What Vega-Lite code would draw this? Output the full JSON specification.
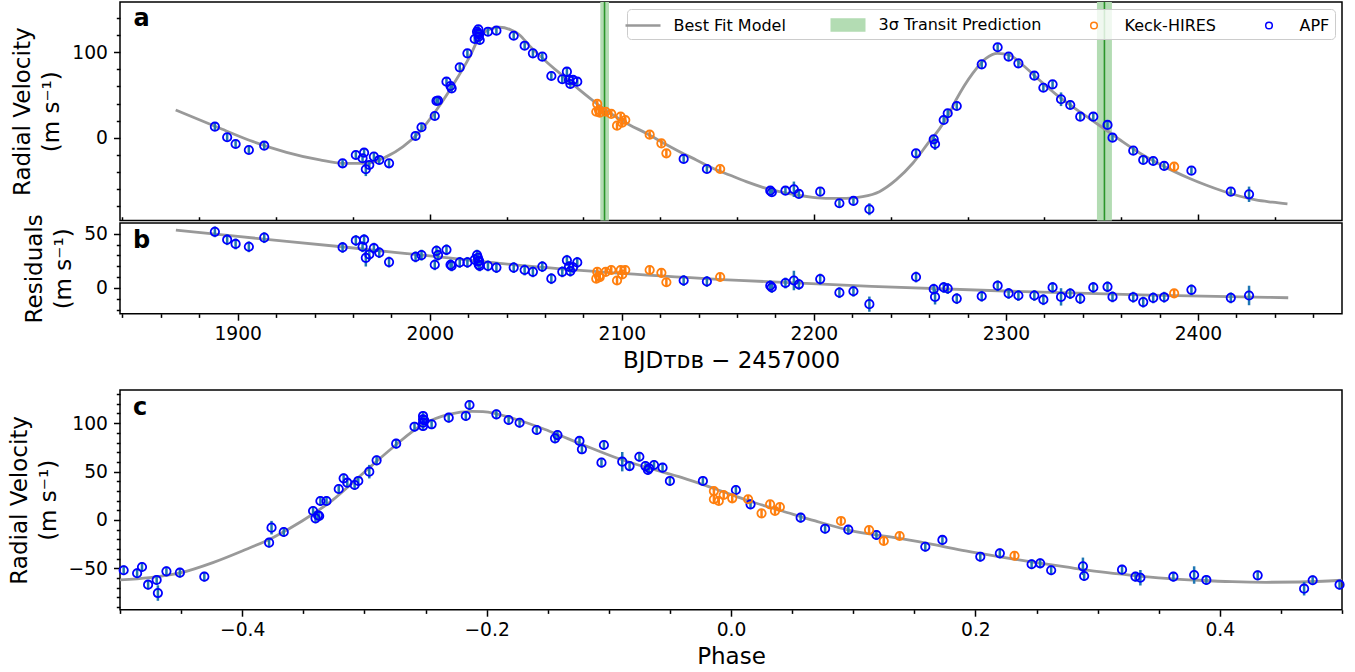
{
  "$schema": "https://vega.github.io/schema/vega-lite/v6.json",
  "background": "white",
  "padding": {"left": 7, "top": 0, "right": 5, "bottom": 0},
  "spacing": -10.5,
  "datasets": {
    "bands": [
      {"t0": 2088.8, "t1": 2093.3, "tc": 2091.0},
      {"t0": 2347.4, "t1": 2355.2, "tc": 2351.3}
    ],
    "model_a": [
      {"t": 1867.7, "rv": 32.4}, {"t": 1890.7, "rv": 11.0}, {"t": 1908.1, "rv": -4.7}, {"t": 1925.4, "rv": -17.1},
      {"t": 1942.8, "rv": -26.1}, {"t": 1954.6, "rv": -30.0}, {"t": 1967.1, "rv": -30.0}, {"t": 1977.5, "rv": -22.2},
      {"t": 1986.1, "rv": -10.5}, {"t": 1994.8, "rv": 7.0}, {"t": 2003.5, "rv": 32.4}, {"t": 2012.1, "rv": 61.7},
      {"t": 2020.8, "rv": 94.9}, {"t": 2026.0, "rv": 118.3}, {"t": 2031.2, "rv": 126.9}, {"t": 2036.4, "rv": 129.3},
      {"t": 2041.6, "rv": 126.9}, {"t": 2046.8, "rv": 120.3}, {"t": 2052.0, "rv": 107.5}, {"t": 2060.7, "rv": 89.0},
      {"t": 2069.4, "rv": 72.2}, {"t": 2078.0, "rv": 55.9}, {"t": 2086.7, "rv": 40.3}, {"t": 2095.4, "rv": 26.6},
      {"t": 2104.1, "rv": 14.9}, {"t": 2112.7, "rv": 5.2}, {"t": 2121.4, "rv": -5.9}, {"t": 2130.1, "rv": -16.4},
      {"t": 2138.8, "rv": -26.1}, {"t": 2147.4, "rv": -35.8}, {"t": 2156.1, "rv": -43.7}, {"t": 2164.8, "rv": -51.5},
      {"t": 2173.4, "rv": -58.1}, {"t": 2182.1, "rv": -63.2}, {"t": 2190.8, "rv": -67.1}, {"t": 2199.4, "rv": -69.8},
      {"t": 2208.1, "rv": -71.0}, {"t": 2216.8, "rv": -71.0}, {"t": 2225.4, "rv": -69.1}, {"t": 2234.1, "rv": -63.2},
      {"t": 2242.8, "rv": -49.5}, {"t": 2251.5, "rv": -30.0}, {"t": 2260.1, "rv": -4.7}, {"t": 2265.3, "rv": 10.0},
      {"t": 2270.5, "rv": 28.6}, {"t": 2274.0, "rv": 44.1}, {"t": 2282.7, "rv": 75.4}, {"t": 2289.6, "rv": 93.0},
      {"t": 2295.7, "rv": 98.8}, {"t": 2301.8, "rv": 96.8}, {"t": 2308.7, "rv": 85.1}, {"t": 2317.4, "rv": 67.6},
      {"t": 2326.1, "rv": 50.8}, {"t": 2334.7, "rv": 36.3}, {"t": 2343.4, "rv": 22.7}, {"t": 2352.1, "rv": 9.0},
      {"t": 2360.7, "rv": -4.7}, {"t": 2369.4, "rv": -17.6}, {"t": 2378.1, "rv": -28.8}, {"t": 2386.7, "rv": -38.6},
      {"t": 2395.4, "rv": -47.5}, {"t": 2404.1, "rv": -55.4}, {"t": 2412.8, "rv": -62.4}, {"t": 2421.4, "rv": -68.3},
      {"t": 2430.1, "rv": -72.9}, {"t": 2438.8, "rv": -75.6}, {"t": 2446.6, "rv": -77.6}
    ],
    "trend_b": [
      {"t": 1867.8, "res": 53.4}, {"t": 1900, "res": 47.5}, {"t": 1954, "res": 38.0}, {"t": 2000, "res": 29.5},
      {"t": 2044, "res": 21.4}, {"t": 2100, "res": 13.5}, {"t": 2161, "res": 7.0}, {"t": 2230, "res": 1.5},
      {"t": 2303, "res": -3.0}, {"t": 2375, "res": -6.5}, {"t": 2447, "res": -9.0}
    ],
    "obs": [
      {"t": 1888.1, "rv": 12.9, "res": 51.8, "e": 5, "inst": "APF"},
      {"t": 1894.5, "rv": 0.5, "res": 44.5, "e": 5, "inst": "APF"},
      {"t": 1898.9, "rv": -7.4, "res": 40.6, "e": 5, "inst": "APF"},
      {"t": 1905.8, "rv": -14.4, "res": 38.0, "e": 5, "inst": "APF"},
      {"t": 1913.8, "rv": -9.4, "res": 46.4, "e": 5, "inst": "APF"},
      {"t": 1954.6, "rv": -30.0, "res": 37.4, "e": 5, "inst": "APF"},
      {"t": 1961.5, "rv": -20.3, "res": 43.8, "e": 5, "inst": "APF"},
      {"t": 1965.0, "rv": -24.1, "res": 38.0, "e": 5, "inst": "APF"},
      {"t": 1965.8, "rv": -17.6, "res": 44.5, "e": 5, "inst": "APF"},
      {"t": 1966.7, "rv": -37.0, "res": 27.8, "e": 8, "inst": "APF"},
      {"t": 1968.5, "rv": -32.0, "res": 30.9, "e": 5, "inst": "APF"},
      {"t": 1970.9, "rv": -22.2, "res": 36.7, "e": 5, "inst": "APF"},
      {"t": 1973.7, "rv": -26.1, "res": 32.6, "e": 5, "inst": "APF"},
      {"t": 1978.8, "rv": -30.0, "res": 23.9, "e": 5, "inst": "APF"},
      {"t": 1992.6, "rv": 2.0, "res": 28.7, "e": 5, "inst": "APF"},
      {"t": 1995.7, "rv": 12.2, "res": 30.3, "e": 5, "inst": "APF"},
      {"t": 2002.6, "rv": 25.4, "res": 21.4, "e": 5, "inst": "APF"},
      {"t": 2003.5, "rv": 43.0, "res": 34.2, "e": 5, "inst": "APF"},
      {"t": 2004.3, "rv": 43.5, "res": 30.3, "e": 5, "inst": "APF"},
      {"t": 2008.7, "rv": 65.6, "res": 35.2, "e": 5, "inst": "APF"},
      {"t": 2010.8, "rv": 60.5, "res": 21.4, "e": 5, "inst": "APF"},
      {"t": 2011.4, "rv": 57.8, "res": 20.4, "e": 5, "inst": "APF"},
      {"t": 2015.6, "rv": 82.4, "res": 23.6, "e": 5, "inst": "APF"},
      {"t": 2019.6, "rv": 98.8, "res": 23.6, "e": 5, "inst": "APF"},
      {"t": 2023.4, "rv": 115.6, "res": 26.2, "e": 5, "inst": "APF"},
      {"t": 2024.6, "rv": 124.1, "res": 30.3, "e": 5, "inst": "APF"},
      {"t": 2025.1, "rv": 122.2, "res": 27.8, "e": 5, "inst": "APF"},
      {"t": 2025.3, "rv": 126.9, "res": 24.6, "e": 5, "inst": "APF"},
      {"t": 2025.5, "rv": 118.3, "res": 21.4, "e": 5, "inst": "APF"},
      {"t": 2025.7, "rv": 121.0, "res": 25.0, "e": 5, "inst": "APF"},
      {"t": 2026.0, "rv": 114.4, "res": 20.4, "e": 5, "inst": "APF"},
      {"t": 2030.3, "rv": 124.1, "res": 20.4, "e": 5, "inst": "APF"},
      {"t": 2034.7, "rv": 125.3, "res": 18.8, "e": 5, "inst": "APF"},
      {"t": 2043.7, "rv": 119.4, "res": 18.8, "e": 5, "inst": "APF"},
      {"t": 2049.4, "rv": 107.7, "res": 16.6, "e": 5, "inst": "APF"},
      {"t": 2053.7, "rv": 98.8, "res": 14.9, "e": 5, "inst": "APF"},
      {"t": 2058.6, "rv": 94.9, "res": 19.7, "e": 5, "inst": "APF"},
      {"t": 2063.3, "rv": 72.2, "res": 8.6, "e": 5, "inst": "APF"},
      {"t": 2069.0, "rv": 68.4, "res": 14.9, "e": 5, "inst": "APF"},
      {"t": 2071.4, "rv": 77.3, "res": 25.5, "e": 5, "inst": "APF"},
      {"t": 2072.5, "rv": 67.6, "res": 19.7, "e": 5, "inst": "APF"},
      {"t": 2073.2, "rv": 62.9, "res": 15.6, "e": 5, "inst": "APF"},
      {"t": 2074.6, "rv": 67.6, "res": 19.0, "e": 5, "inst": "APF"},
      {"t": 2076.8, "rv": 65.6, "res": 23.6, "e": 5, "inst": "APF"},
      {"t": 2086.7, "rv": 30.4, "res": 8.6, "e": 4, "inst": "Keck-HIRES"},
      {"t": 2087.2, "rv": 39.5, "res": 14.9, "e": 4, "inst": "Keck-HIRES"},
      {"t": 2088.1, "rv": 32.4, "res": 11.0, "e": 4, "inst": "Keck-HIRES"},
      {"t": 2088.5, "rv": 29.3, "res": 10.0, "e": 4, "inst": "Keck-HIRES"},
      {"t": 2091.6, "rv": 30.4, "res": 14.9, "e": 4, "inst": "Keck-HIRES"},
      {"t": 2094.5, "rv": 27.8, "res": 16.6, "e": 4, "inst": "Keck-HIRES"},
      {"t": 2097.5, "rv": 14.1, "res": 6.9, "e": 4, "inst": "Keck-HIRES"},
      {"t": 2099.4, "rv": 24.6, "res": 16.6, "e": 4, "inst": "Keck-HIRES"},
      {"t": 2100.2, "rv": 17.6, "res": 12.5, "e": 4, "inst": "Keck-HIRES"},
      {"t": 2101.8, "rv": 20.7, "res": 16.6, "e": 4, "inst": "Keck-HIRES"},
      {"t": 2114.5, "rv": 3.5, "res": 16.6, "e": 4, "inst": "Keck-HIRES"},
      {"t": 2120.6, "rv": -6.6, "res": 14.0, "e": 4, "inst": "Keck-HIRES"},
      {"t": 2123.2, "rv": -18.3, "res": 5.3, "e": 4, "inst": "Keck-HIRES"},
      {"t": 2132.2, "rv": -24.9, "res": 6.9, "e": 5, "inst": "APF"},
      {"t": 2144.3, "rv": -36.7, "res": 6.0, "e": 5, "inst": "APF"},
      {"t": 2151.2, "rv": -36.7, "res": 10.1, "e": 4, "inst": "Keck-HIRES"},
      {"t": 2177.3, "rv": -62.1, "res": 2.1, "e": 5, "inst": "APF"},
      {"t": 2178.1, "rv": -63.9, "res": 0.5, "e": 5, "inst": "APF"},
      {"t": 2185.2, "rv": -62.1, "res": 4.6, "e": 5, "inst": "APF"},
      {"t": 2189.6, "rv": -60.4, "res": 6.9, "e": 9, "inst": "APF"},
      {"t": 2192.2, "rv": -65.9, "res": 3.4, "e": 5, "inst": "APF"},
      {"t": 2203.3, "rv": -63.2, "res": 8.2, "e": 5, "inst": "APF"},
      {"t": 2213.3, "rv": -76.8, "res": -4.3, "e": 5, "inst": "APF"},
      {"t": 2220.6, "rv": -74.1, "res": -3.0, "e": 5, "inst": "APF"},
      {"t": 2228.9, "rv": -83.8, "res": -14.9, "e": 7, "inst": "APF"},
      {"t": 2253.2, "rv": -18.3, "res": 10.1, "e": 5, "inst": "APF"},
      {"t": 2262.4, "rv": -1.9, "res": -1.1, "e": 5, "inst": "APF"},
      {"t": 2263.1, "rv": -7.4, "res": -8.2, "e": 7, "inst": "APF"},
      {"t": 2267.6, "rv": 20.7, "res": 0.5, "e": 5, "inst": "APF"},
      {"t": 2269.7, "rv": 28.6, "res": -0.5, "e": 5, "inst": "APF"},
      {"t": 2274.4, "rv": 37.1, "res": -9.8, "e": 5, "inst": "APF"},
      {"t": 2287.4, "rv": 85.9, "res": -7.6, "e": 5, "inst": "APF"},
      {"t": 2295.7, "rv": 105.9, "res": 2.1, "e": 5, "inst": "APF"},
      {"t": 2301.4, "rv": 94.9, "res": -5.0, "e": 5, "inst": "APF"},
      {"t": 2306.5, "rv": 87.1, "res": -6.9, "e": 5, "inst": "APF"},
      {"t": 2314.8, "rv": 72.6, "res": -6.9, "e": 5, "inst": "APF"},
      {"t": 2319.5, "rv": 58.5, "res": -10.8, "e": 5, "inst": "APF"},
      {"t": 2324.3, "rv": 62.5, "res": 0.5, "e": 5, "inst": "APF"},
      {"t": 2328.7, "rv": 45.0, "res": -8.2, "e": 8, "inst": "APF"},
      {"t": 2333.5, "rv": 38.3, "res": -5.2, "e": 5, "inst": "APF"},
      {"t": 2338.7, "rv": 24.6, "res": -9.8, "e": 5, "inst": "APF"},
      {"t": 2345.5, "rv": 24.6, "res": 0.5, "e": 5, "inst": "APF"},
      {"t": 2352.9, "rv": 14.9, "res": 1.1, "e": 5, "inst": "APF"},
      {"t": 2355.5, "rv": 0.0, "res": -8.2, "e": 5, "inst": "APF"},
      {"t": 2366.3, "rv": -15.2, "res": -8.5, "e": 5, "inst": "APF"},
      {"t": 2371.5, "rv": -26.1, "res": -13.0, "e": 5, "inst": "APF"},
      {"t": 2376.7, "rv": -27.3, "res": -9.1, "e": 5, "inst": "APF"},
      {"t": 2382.4, "rv": -33.1, "res": -8.5, "e": 5, "inst": "APF"},
      {"t": 2387.6, "rv": -34.0, "res": -5.0, "e": 4, "inst": "Keck-HIRES"},
      {"t": 2396.6, "rv": -38.6, "res": -1.7, "e": 5, "inst": "APF"},
      {"t": 2417.1, "rv": -63.2, "res": -9.1, "e": 5, "inst": "APF"},
      {"t": 2426.6, "rv": -66.3, "res": -6.9, "e": 9, "inst": "APF"}
    ],
    "model_c": [
      {"ph": -0.5, "rv": -61.9}, {"ph": -0.476, "rv": -59.5}, {"ph": -0.45, "rv": -54.4}, {"ph": -0.424, "rv": -44.0},
      {"ph": -0.4, "rv": -32.0}, {"ph": -0.375, "rv": -18.2}, {"ph": -0.351, "rv": -1.0}, {"ph": -0.326, "rv": 20.6},
      {"ph": -0.302, "rv": 47.2}, {"ph": -0.277, "rv": 74.6}, {"ph": -0.252, "rv": 98.8}, {"ph": -0.231, "rv": 109.1},
      {"ph": -0.212, "rv": 112.2}, {"ph": -0.203, "rv": 111.8}, {"ph": -0.176, "rv": 104.0}, {"ph": -0.149, "rv": 91.9},
      {"ph": -0.122, "rv": 78.1}, {"ph": -0.094, "rv": 64.3}, {"ph": -0.067, "rv": 53.4}, {"ph": -0.04, "rv": 43.7},
      {"ph": -0.012, "rv": 31.7}, {"ph": 0.015, "rv": 19.6}, {"ph": 0.042, "rv": 9.3}, {"ph": 0.069, "rv": -1.0},
      {"ph": 0.097, "rv": -10.6}, {"ph": 0.138, "rv": -19.0}, {"ph": 0.165, "rv": -25.1}, {"ph": 0.192, "rv": -32.0},
      {"ph": 0.219, "rv": -37.9}, {"ph": 0.247, "rv": -43.4}, {"ph": 0.274, "rv": -48.5}, {"ph": 0.301, "rv": -53.4},
      {"ph": 0.328, "rv": -57.1}, {"ph": 0.356, "rv": -60.2}, {"ph": 0.383, "rv": -62.2}, {"ph": 0.41, "rv": -63.7},
      {"ph": 0.438, "rv": -64.3}, {"ph": 0.465, "rv": -64.0}, {"ph": 0.5, "rv": -62.2}
    ],
    "phased": [
      {"ph": -0.497, "rv": -51.9, "e": 5, "inst": "APF"}, {"ph": -0.486, "rv": -55.0, "e": 5, "inst": "APF"},
      {"ph": -0.482, "rv": -48.5, "e": 5, "inst": "APF"}, {"ph": -0.477, "rv": -66.8, "e": 5, "inst": "APF"},
      {"ph": -0.47, "rv": -61.9, "e": 5, "inst": "APF"}, {"ph": -0.469, "rv": -75.4, "e": 8, "inst": "APF"},
      {"ph": -0.462, "rv": -53.0, "e": 5, "inst": "APF"}, {"ph": -0.451, "rv": -54.4, "e": 5, "inst": "APF"},
      {"ph": -0.431, "rv": -58.5, "e": 5, "inst": "APF"}, {"ph": -0.378, "rv": -23.4, "e": 5, "inst": "APF"},
      {"ph": -0.376, "rv": -7.9, "e": 7, "inst": "APF"}, {"ph": -0.366, "rv": -12.4, "e": 5, "inst": "APF"},
      {"ph": -0.342, "rv": 9.3, "e": 5, "inst": "APF"}, {"ph": -0.34, "rv": 1.7, "e": 5, "inst": "APF"},
      {"ph": -0.338, "rv": 4.8, "e": 5, "inst": "APF"}, {"ph": -0.337, "rv": 4.1, "e": 5, "inst": "APF"},
      {"ph": -0.336, "rv": 19.6, "e": 5, "inst": "APF"}, {"ph": -0.331, "rv": 19.6, "e": 5, "inst": "APF"},
      {"ph": -0.321, "rv": 32.0, "e": 5, "inst": "APF"}, {"ph": -0.317, "rv": 43.0, "e": 5, "inst": "APF"},
      {"ph": -0.314, "rv": 38.5, "e": 5, "inst": "APF"}, {"ph": -0.308, "rv": 36.1, "e": 5, "inst": "APF"},
      {"ph": -0.305, "rv": 40.3, "e": 5, "inst": "APF"}, {"ph": -0.296, "rv": 49.9, "e": 7, "inst": "APF"},
      {"ph": -0.29, "rv": 61.6, "e": 5, "inst": "APF"}, {"ph": -0.274, "rv": 78.8, "e": 5, "inst": "APF"},
      {"ph": -0.259, "rv": 96.3, "e": 5, "inst": "APF"}, {"ph": -0.252, "rv": 107.4, "e": 5, "inst": "APF"},
      {"ph": -0.252, "rv": 104.0, "e": 5, "inst": "APF"}, {"ph": -0.252, "rv": 100.4, "e": 5, "inst": "APF"},
      {"ph": -0.252, "rv": 97.0, "e": 5, "inst": "APF"}, {"ph": -0.251, "rv": 102.9, "e": 5, "inst": "APF"},
      {"ph": -0.245, "rv": 98.8, "e": 5, "inst": "APF"}, {"ph": -0.231, "rv": 105.6, "e": 5, "inst": "APF"},
      {"ph": -0.217, "rv": 107.4, "e": 5, "inst": "APF"}, {"ph": -0.214, "rv": 118.7, "e": 5, "inst": "APF"},
      {"ph": -0.192, "rv": 109.1, "e": 5, "inst": "APF"}, {"ph": -0.182, "rv": 103.2, "e": 5, "inst": "APF"},
      {"ph": -0.173, "rv": 100.4, "e": 5, "inst": "APF"}, {"ph": -0.159, "rv": 92.9, "e": 5, "inst": "APF"},
      {"ph": -0.144, "rv": 84.3, "e": 5, "inst": "APF"}, {"ph": -0.142, "rv": 87.7, "e": 5, "inst": "APF"},
      {"ph": -0.124, "rv": 81.6, "e": 5, "inst": "APF"}, {"ph": -0.122, "rv": 73.0, "e": 5, "inst": "APF"},
      {"ph": -0.104, "rv": 77.4, "e": 5, "inst": "APF"}, {"ph": -0.106, "rv": 59.2, "e": 5, "inst": "APF"},
      {"ph": -0.089, "rv": 60.2, "e": 10, "inst": "APF"}, {"ph": -0.083, "rv": 55.7, "e": 5, "inst": "APF"},
      {"ph": -0.075, "rv": 65.3, "e": 5, "inst": "APF"}, {"ph": -0.07, "rv": 55.7, "e": 5, "inst": "APF"},
      {"ph": -0.068, "rv": 51.6, "e": 5, "inst": "APF"}, {"ph": -0.067, "rv": 53.4, "e": 5, "inst": "APF"},
      {"ph": -0.063, "rv": 56.8, "e": 5, "inst": "APF"}, {"ph": -0.056, "rv": 54.0, "e": 5, "inst": "APF"},
      {"ph": -0.05, "rv": 40.3, "e": 5, "inst": "APF"}, {"ph": -0.023, "rv": 40.3, "e": 5, "inst": "APF"},
      {"ph": 0.004, "rv": 31.0, "e": 5, "inst": "APF"}, {"ph": 0.016, "rv": 16.2, "e": 5, "inst": "APF"},
      {"ph": 0.057, "rv": 2.4, "e": 5, "inst": "APF"}, {"ph": 0.077, "rv": -9.0, "e": 5, "inst": "APF"},
      {"ph": 0.096, "rv": -10.0, "e": 5, "inst": "APF"}, {"ph": 0.119, "rv": -15.5, "e": 5, "inst": "APF"},
      {"ph": 0.159, "rv": -27.6, "e": 5, "inst": "APF"}, {"ph": 0.173, "rv": -20.6, "e": 5, "inst": "APF"},
      {"ph": 0.204, "rv": -37.9, "e": 5, "inst": "APF"}, {"ph": 0.22, "rv": -34.4, "e": 5, "inst": "APF"},
      {"ph": 0.246, "rv": -45.7, "e": 5, "inst": "APF"}, {"ph": 0.253, "rv": -44.7, "e": 5, "inst": "APF"},
      {"ph": 0.262, "rv": -51.9, "e": 5, "inst": "APF"}, {"ph": 0.288, "rv": -47.8, "e": 9, "inst": "APF"},
      {"ph": 0.289, "rv": -57.8, "e": 5, "inst": "APF"}, {"ph": 0.32, "rv": -51.3, "e": 5, "inst": "APF"},
      {"ph": 0.331, "rv": -58.5, "e": 5, "inst": "APF"}, {"ph": 0.335, "rv": -59.6, "e": 8, "inst": "APF"},
      {"ph": 0.362, "rv": -58.5, "e": 5, "inst": "APF"}, {"ph": 0.379, "rv": -56.8, "e": 9, "inst": "APF"},
      {"ph": 0.389, "rv": -61.9, "e": 5, "inst": "APF"}, {"ph": 0.431, "rv": -57.1, "e": 5, "inst": "APF"},
      {"ph": 0.469, "rv": -70.9, "e": 7, "inst": "APF"}, {"ph": 0.476, "rv": -62.2, "e": 5, "inst": "APF"},
      {"ph": 0.498, "rv": -66.8, "e": 5, "inst": "APF"},
      {"ph": -0.014, "rv": 29.9, "e": 4, "inst": "Keck-HIRES"}, {"ph": -0.014, "rv": 21.4, "e": 4, "inst": "Keck-HIRES"},
      {"ph": -0.01, "rv": 19.6, "e": 4, "inst": "Keck-HIRES"}, {"ph": -0.006, "rv": 25.8, "e": 4, "inst": "Keck-HIRES"},
      {"ph": 0.001, "rv": 22.4, "e": 4, "inst": "Keck-HIRES"}, {"ph": 0.014, "rv": 21.4, "e": 4, "inst": "Keck-HIRES"},
      {"ph": 0.025, "rv": 6.9, "e": 4, "inst": "Keck-HIRES"}, {"ph": 0.032, "rv": 16.2, "e": 4, "inst": "Keck-HIRES"},
      {"ph": 0.036, "rv": 9.3, "e": 4, "inst": "Keck-HIRES"}, {"ph": 0.04, "rv": 13.4, "e": 4, "inst": "Keck-HIRES"},
      {"ph": 0.09, "rv": -1.0, "e": 4, "inst": "Keck-HIRES"}, {"ph": 0.113, "rv": -10.3, "e": 4, "inst": "Keck-HIRES"},
      {"ph": 0.125, "rv": -21.7, "e": 4, "inst": "Keck-HIRES"}, {"ph": 0.138, "rv": -16.5, "e": 4, "inst": "Keck-HIRES"},
      {"ph": 0.232, "rv": -36.9, "e": 4, "inst": "Keck-HIRES"}
    ]
  },
  "vconcat": [
    {
      "width": 1222,
      "height": 218.5,
      "resolve": {"axis": {"y": "independent"}},
      "layer": [
        {
          "data": {"name": "bands"},
          "mark": {"type": "rect", "color": "#b3dcb3"},
          "encoding": {
            "x": {"field": "t0", "type": "quantitative", "title": "t", "scale": {"domain": [1838.7, 2475], "nice": false, "zero": false},
              "axis": {"title": null, "labels": false, "offset": -6.5, "tickSize": 6.5, "minExtent": 0, "maxExtent": 0,
                "values": [1840,1860,1880,1900,1920,1940,1960,1980,2000,2020,2040,2060,2080,2100,2120,2140,2160,2180,2200,2220,2240,2260,2280,2300,2320,2340,2360,2380,2400,2420,2440,2460],
                "tickDash": {"condition": {"test": "datum.value % 100 === 0", "value": [6.5, 10]}, "value": [0, 2.8, 3.7, 10]}}},
            "x2": {"field": "t1"}
          }
        },
        {
          "data": {"name": "bands"},
          "mark": {"type": "rule", "color": "#2a952a", "strokeWidth": 1.6},
          "encoding": {"x": {"field": "tc", "type": "quantitative", "title": "t"}}
        },
        {
          "data": {"name": "model_a"},
          "mark": {"type": "line", "strokeWidth": 2.8, "interpolate": "monotone", "color": "#999999"},
          "encoding": {
            "x": {"field": "t", "type": "quantitative", "title": "t"},
            "y": {"field": "rv", "type": "quantitative", "title": ["Radial Velocity", "(m s⁻¹)"], "scale": {"domain": [-97, 158.9], "nice": false, "zero": false},
              "axis": {"orient": "left", "titleLineHeight": 29, "titlePadding": 8, "labelOverlap": false, "values": [0, 100], "tickSize": 6.5}}
          }
        },
        {
          "data": {"name": "obs"},
          "transform": [{"filter": "datum.inst === 'APF'"}],
          "mark": {"type": "errorbar", "color": "#1f77b4", "thickness": 2.5},
          "encoding": {"x": {"field": "t", "type": "quantitative", "title": "t"}, "y": {"field": "rv", "type": "quantitative", "axis": null}, "yError": {"field": "e"}}
        },
        {
          "data": {"name": "obs"},
          "transform": [{"filter": "datum.inst === 'Keck-HIRES'"}],
          "mark": {"type": "errorbar", "color": "#ff7f0e", "thickness": 2.5},
          "encoding": {"x": {"field": "t", "type": "quantitative", "title": "t"}, "y": {"field": "rv", "type": "quantitative", "axis": null}, "yError": {"field": "e"}}
        },
        {
          "data": {"name": "obs"},
          "mark": {"type": "point", "filled": false, "size": 70, "strokeWidth": 1.8, "opacity": 1},
          "encoding": {
            "x": {"field": "t", "type": "quantitative", "title": "t"},
            "y": {"field": "rv", "type": "quantitative",
              "axis": {"orient": "left", "title": null, "labels": false, "tickSize": 3.7, "minExtent": 0, "values": [-80,-60,-40,-20,20,40,60,80,120,140]}},
            "color": {"field": "inst", "type": "nominal",
              "scale": {"domain": ["Best Fit Model", "3σ Transit Prediction", "Keck-HIRES", "APF"], "range": ["#999999", "#b3dcb3", "#ff7f0e", "#0000ff"]},
              "legend": {
                "title": null, "orient": "top-right", "offset": 7, "direction": "horizontal", "columns": 4,
                "symbolSize": 400, "symbolOpacity": 1,
                "symbolType": {"expr": "datum.value === 'Best Fit Model' ? 'M-1.75,-0.06L1.75,-0.06M-1.75,0.06L1.75,0.06' : datum.value === '3σ Transit Prediction' ? 'M-1.75,-0.6L1.75,-0.6M-1.75,-0.45L1.75,-0.45M-1.75,-0.3L1.75,-0.3M-1.75,-0.15L1.75,-0.15M-1.75,0L1.75,0M-1.75,0.15L1.75,0.15M-1.75,0.3L1.75,0.3M-1.75,0.45L1.75,0.45M-1.75,0.6L1.75,0.6' : 'M0.33,0A0.33,0.33,0,1,1,-0.33,0A0.33,0.33,0,1,1,0.33,0Z'"},
                "labelFontSize": 16, "labelFont": "DejaVu Sans", "labelColor": "#000000",
                "labelOffset": 19.5, "columnPadding": 41, "padding": 5, "labelLimit": 400,
                "strokeColor": "#cccccc", "fillColor": "rgba(255,255,255,0.8)", "cornerRadius": 4
              }}
          }
        },
        {
          "data": {"values": [{"lab": "a"}]},
          "mark": {"type": "text", "fontSize": 24, "fontWeight": "bold", "font": "DejaVu Sans", "align": "center", "baseline": "middle", "color": "#000"},
          "encoding": {"x": {"datum": 1850, "title": "t"}, "y": {"datum": 138.8, "axis": null}, "text": {"field": "lab"}}
        }
      ]
    },
    {
      "width": 1222,
      "height": 90.7,
      "resolve": {"axis": {"x": "independent", "y": "independent"}},
      "layer": [
        {
          "data": {"name": "trend_b"},
          "mark": {"type": "line", "strokeWidth": 2.8, "color": "#999999", "interpolate": "monotone"},
          "encoding": {
            "x": {"field": "t", "type": "quantitative", "title": ["BJDᴛᴅʙ − 2457000", ""], "scale": {"domain": [1838.7, 2475], "nice": false, "zero": false},
              "axis": {"orient": "bottom", "titlePadding": 6.5, "titleLineHeight": 16, "format": "d", "labelPadding": 4.5, "labelOverlap": false,
                "values": [1900, 2000, 2100, 2200, 2300, 2400], "tickSize": 6.5}},
            "y": {"field": "res", "type": "quantitative", "title": ["Residuals", "(m s⁻¹)"], "scale": {"domain": [-23.7, 59.9], "nice": false, "zero": false},
              "axis": {"orient": "left", "titleLineHeight": 29, "titlePadding": 8, "labelOverlap": false, "values": [0, 50], "tickSize": 6.5}}
          }
        },
        {
          "data": {"name": "obs"},
          "transform": [{"filter": "datum.inst === 'APF'"}],
          "mark": {"type": "errorbar", "color": "#1f77b4", "thickness": 2.5},
          "encoding": {"x": {"field": "t", "type": "quantitative", "axis": null}, "y": {"field": "res", "type": "quantitative", "axis": null}, "yError": {"field": "e"}}
        },
        {
          "data": {"name": "obs"},
          "transform": [{"filter": "datum.inst === 'Keck-HIRES'"}],
          "mark": {"type": "errorbar", "color": "#ff7f0e", "thickness": 2.5},
          "encoding": {"x": {"field": "t", "type": "quantitative", "axis": null}, "y": {"field": "res", "type": "quantitative", "axis": null}, "yError": {"field": "e"}}
        },
        {
          "data": {"name": "obs"},
          "mark": {"type": "point", "filled": false, "size": 70, "strokeWidth": 1.8, "opacity": 1},
          "encoding": {
            "x": {"field": "t", "type": "quantitative",
              "axis": {"orient": "bottom", "title": null, "labels": false, "tickSize": 3.7, "minExtent": 0,
                "values": [1840,1860,1880,1920,1940,1960,1980,2020,2040,2060,2080,2120,2140,2160,2180,2220,2240,2260,2280,2320,2340,2360,2380,2420,2440,2460]}},
            "y": {"field": "res", "type": "quantitative",
              "axis": {"orient": "left", "title": null, "labels": false, "tickSize": 3.7, "minExtent": 0, "values": [-20,-10,10,20,30,40]}},
            "color": {"field": "inst", "type": "nominal", "scale": {"domain": ["Keck-HIRES", "APF"], "range": ["#ff7f0e", "#0000ff"]}, "legend": null}
          }
        },
        {
          "data": {"values": [{"lab": "b"}]},
          "mark": {"type": "text", "fontSize": 24, "fontWeight": "bold", "font": "DejaVu Sans", "align": "center", "baseline": "middle", "color": "#000"},
          "encoding": {"x": {"datum": 1850, "axis": null}, "y": {"datum": 43, "axis": null}, "text": {"field": "lab"}}
        }
      ]
    },
    {
      "width": 1222,
      "height": 219.7,
      "resolve": {"axis": {"y": "independent"}},
      "layer": [
        {
          "data": {"name": "model_c"},
          "mark": {"type": "line", "strokeWidth": 2.8, "color": "#999999", "interpolate": "monotone"},
          "encoding": {
            "x": {"field": "ph", "type": "quantitative", "title": "Phase", "scale": {"domain": [-0.5, 0.5], "nice": false, "zero": false},
              "axis": {"titlePadding": 6.5, "format": ".1f", "labelPadding": 4.5, "labelOverlap": false,
                "values": [-0.5,-0.45,-0.4,-0.35,-0.3,-0.25,-0.2,-0.15,-0.1,-0.05,0,0.05,0.1,0.15,0.2,0.25,0.3,0.35,0.4,0.45,0.5],
                "labelExpr": "abs(round(datum.value*100)) % 20 === 0 ? datum.label : ''",
                "tickSize": {"condition": {"test": "abs(round(datum.value*100)) % 20 === 0", "value": 6.5}, "value": 3.7}}},
            "y": {"field": "rv", "type": "quantitative", "title": ["Radial Velocity", "(m s⁻¹)"], "scale": {"domain": [-92.6, 134.2], "nice": false, "zero": false},
              "axis": {"orient": "left", "titleLineHeight": 29, "titlePadding": 8, "labelOverlap": false, "values": [-50, 0, 50, 100], "tickSize": 6.5}}
          }
        },
        {
          "data": {"name": "phased"},
          "transform": [{"filter": "datum.inst === 'APF'"}],
          "mark": {"type": "errorbar", "color": "#1f77b4", "thickness": 2.5},
          "encoding": {"x": {"field": "ph", "type": "quantitative", "title": "Phase"}, "y": {"field": "rv", "type": "quantitative", "axis": null}, "yError": {"field": "e"}}
        },
        {
          "data": {"name": "phased"},
          "transform": [{"filter": "datum.inst === 'Keck-HIRES'"}],
          "mark": {"type": "errorbar", "color": "#ff7f0e", "thickness": 2.5},
          "encoding": {"x": {"field": "ph", "type": "quantitative", "title": "Phase"}, "y": {"field": "rv", "type": "quantitative", "axis": null}, "yError": {"field": "e"}}
        },
        {
          "data": {"name": "phased"},
          "mark": {"type": "point", "filled": false, "size": 70, "strokeWidth": 1.8, "opacity": 1},
          "encoding": {
            "x": {"field": "ph", "type": "quantitative", "title": "Phase"},
            "y": {"field": "rv", "type": "quantitative",
              "axis": {"orient": "left", "title": null, "labels": false, "tickSize": 3.7, "minExtent": 0,
                "values": [-90,-80,-70,-60,-40,-30,-20,-10,10,20,30,40,60,70,80,90,110,120,130]}},
            "color": {"field": "inst", "type": "nominal", "scale": {"domain": ["Keck-HIRES", "APF"], "range": ["#ff7f0e", "#0000ff"]}, "legend": null}
          }
        },
        {
          "data": {"values": [{"lab": "c"}]},
          "mark": {"type": "text", "fontSize": 24, "fontWeight": "bold", "font": "DejaVu Sans", "align": "center", "baseline": "middle", "color": "#000"},
          "encoding": {"x": {"datum": -0.4836, "title": "Phase"}, "y": {"datum": 115.4, "axis": null}, "text": {"field": "lab"}}
        }
      ]
    }
  ],
  "resolve": {"scale": {"x": "independent", "y": "independent", "color": "independent"}},
  "config": {
    "font": "DejaVu Sans",
    "view": {"stroke": "#000000", "strokeWidth": 1.5},
    "axis": {
      "domain": false, "grid": false, "labelFontSize": 18.7, "labelColor": "#000000", "labelFont": "DejaVu Sans",
      "titleFontSize": 23, "titleFont": "DejaVu Sans", "titleFontWeight": "normal", "titleColor": "#000000",
      "tickColor": "#000000", "tickWidth": 1.5, "labelPadding": 6, "labelOverlap": false, "labelFlush": false
    }
  }
}
